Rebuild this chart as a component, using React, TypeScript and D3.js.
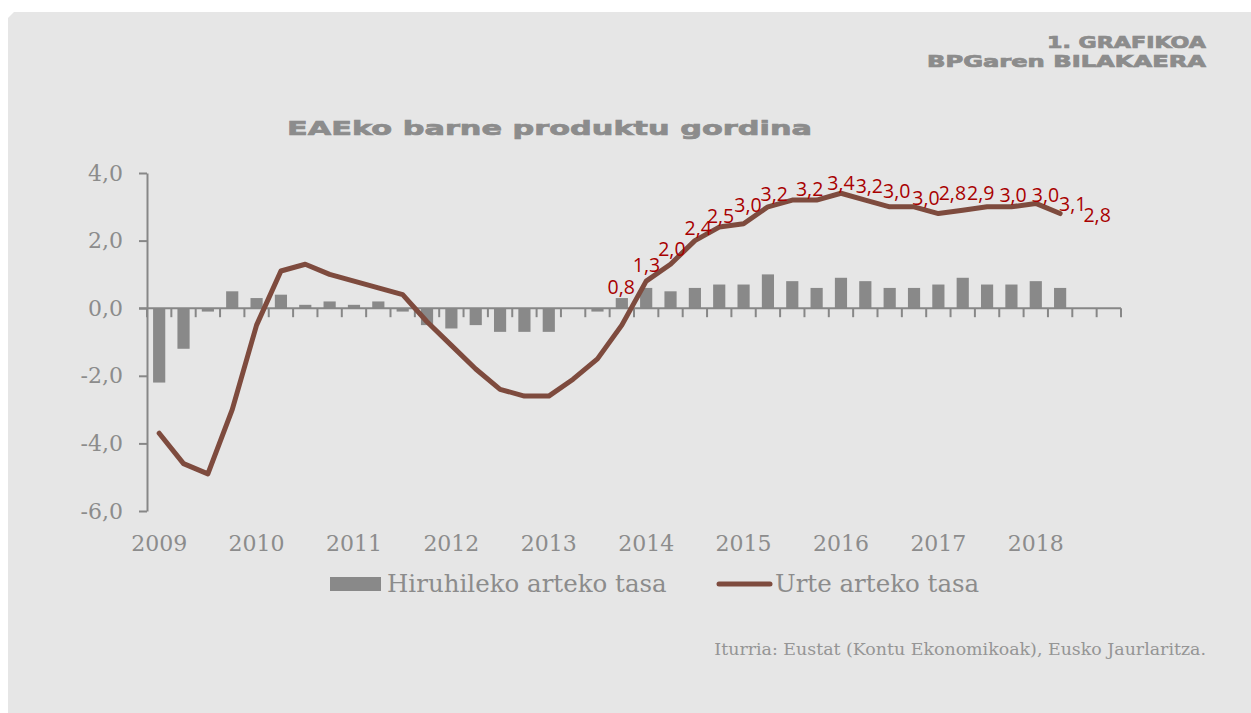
import React, { useRef, useEffect } from 'react';
import * as d3 from 'd3';

// 2009 I .. 2018 IV (40 hiruhileko); datuak 2018 II arte
const years = ['2009', '2010', '2011', '2012', '2013', '2014', '2015', '2016', '2017', '2018'];
const quarterNames = ['I', 'II', 'III', 'IV'];

// Hiruhileko arteko tasa (barrak)
const quarterlyRate = [
  -2.2, -1.2, -0.1, 0.5,
  0.3, 0.4, 0.1, 0.2,
  0.1, 0.2, -0.1, -0.5,
  -0.6, -0.5, -0.7, -0.7,
  -0.7, 0.0, -0.1, 0.3,
  0.6, 0.5, 0.6, 0.7,
  0.7, 1.0, 0.8, 0.6,
  0.9, 0.8, 0.6, 0.6,
  0.7, 0.9, 0.7, 0.7,
  0.8, 0.6,
];

// Urte arteko tasa (lerroa)
const annualRate = [
  -3.7, -4.6, -4.9, -3.0,
  -0.5, 1.1, 1.3, 1.0,
  0.8, 0.6, 0.4, -0.4,
  -1.1, -1.8, -2.4, -2.6,
  -2.6, -2.1, -1.5, -0.5,
  0.8, 1.3, 2.0, 2.4,
  2.5, 3.0, 3.2, 3.2,
  3.4, 3.2, 3.0, 3.0,
  2.8, 2.9, 3.0, 3.0,
  3.1, 2.8,
];

// etiketak 2014 I-tik aurrera
const firstLabelIndex = 20;
// etiketen desplazamendua puntuarekiko (px)
const labelOffsets = [
  [-25, 6], [-24, 1], [-23, 8], [-21, 1], [-23, -8], [-20, -2], [-18, -6], [-7, -11], [0, -10],
  [4, -14], [7, -16], [12, -9], [14, -21], [18, -17], [26, -12], [34, -12], [37, 1], [37, 1],
];

const yTicks = [-6, -4, -2, 0, 2, 4];

const legendItems = ['Hiruhileko arteko tasa', 'Urte arteko tasa'];

const GRAY_TEXT = '#8c8c8c';
const AXIS = '#878787';
const BAR = '#898989';
const LINE = '#7e4b3e';
const LABEL = '#a80000';

const locale = d3.formatLocale({ decimal: ',', thousands: '.', grouping: [3], currency: ['', '€'], minus: '-' });
const fmt = locale.format('.1f');

const App = () => {
  const svgRef = useRef<SVGSVGElement>(null);

  useEffect(() => {
    document.body.style.margin = '0';
    const width = 1251;
    const height = 713;
    const categories = years.flatMap(yr => quarterNames.map(q => `${yr}-${q}`));

    const svg = d3.select(svgRef.current)
      .attr('width', width)
      .attr('height', height)
      .style('display', 'block')
      .style('background', 'white');

    svg.selectAll('*').remove();

    // panel
    svg.append('path')
      .attr('d', `M8,18 L14,12 L${width},12 L${width},${height} L8,${height} Z`)
      .attr('fill', '#e6e6e6');

    // header + title: wide bold lettering
    const heading = (x: number, y: number, len: number, size: number, anchor: string, txt: string) =>
      svg.append('text')
        .attr('x', x).attr('y', y)
        .attr('text-anchor', anchor)
        .attr('textLength', len).attr('lengthAdjust', 'spacingAndGlyphs')
        .style('font-family', 'DejaVu Sans').style('font-weight', 'bold').style('font-size', `${size}px`)
        .attr('fill', GRAY_TEXT)
        .attr('stroke', GRAY_TEXT).attr('stroke-width', 0.7)
        .text(txt);

    heading(1206, 48, 159, 15, 'end', '1. GRAFIKOA');
    heading(1206, 67, 279, 15, 'end', 'BPGaren BILAKAERA');
    heading(287, 135, 525, 20, 'start', 'EAEko barne produktu gordina');

    const xScale = d3.scaleBand().domain(categories).range([147, 1121]).padding(0);
    const yScale = d3.scaleLinear().domain([-6, 4]).range([511, 173]);
    const bw = xScale.bandwidth();
    const cx = (i: number) => (xScale(categories[i]) as number) + bw / 2;

    // bars
    svg.append('g')
      .selectAll('rect')
      .data(quarterlyRate)
      .join('rect')
      .attr('x', (d, i) => cx(i) - bw * 0.25)
      .attr('width', bw * 0.5)
      .attr('y', d => yScale(Math.max(0, d)))
      .attr('height', d => Math.abs(yScale(d) - yScale(0)))
      .attr('fill', BAR);

    // y axis
    const yAxis = d3.axisLeft(yScale)
      .tickValues(yTicks)
      .tickFormat(d => fmt(d as number))
      .tickSize(8)
      .tickSizeOuter(0)
      .tickPadding(16);
    const gy = svg.append('g')
      .attr('transform', 'translate(147,0)')
      .call(yAxis);
    gy.select('.domain').attr('stroke', AXIS).attr('stroke-width', 2);
    gy.selectAll('.tick line').attr('stroke', AXIS).attr('stroke-width', 2);
    gy.selectAll('.tick text')
      .attr('fill', GRAY_TEXT)
      .style('font-family', 'DejaVu Serif')
      .style('font-size', '22px');

    // x axis on zero line
    const y0 = yScale(0);
    svg.append('line')
      .attr('x1', 139).attr('x2', 1121)
      .attr('y1', y0).attr('y2', y0)
      .attr('stroke', AXIS).attr('stroke-width', 2);
    svg.append('g')
      .selectAll('line')
      .data(d3.range(categories.length + 1))
      .join('line')
      .attr('x1', i => 147 + i * bw).attr('x2', i => 147 + i * bw)
      .attr('y1', y0).attr('y2', y0 + 9)
      .attr('stroke', AXIS).attr('stroke-width', 2);

    svg.append('g')
      .selectAll('text')
      .data(years)
      .join('text')
      .attr('x', yr => cx(categories.indexOf(`${yr}-I`)))
      .attr('y', 551)
      .attr('text-anchor', 'middle')
      .attr('fill', GRAY_TEXT)
      .style('font-family', 'DejaVu Serif')
      .style('font-size', '22px')
      .text(yr => yr);

    // line
    const line = d3.line<number>()
      .x((d, i) => cx(i))
      .y(d => yScale(d));
    svg.append('path')
      .datum(annualRate)
      .attr('fill', 'none')
      .attr('stroke', LINE)
      .attr('stroke-width', 5)
      .attr('stroke-linejoin', 'round')
      .attr('stroke-linecap', 'round')
      .attr('d', line);

    // data labels
    svg.append('g')
      .selectAll('text')
      .data(annualRate.slice(firstLabelIndex))
      .join('text')
      .attr('x', (d, i) => cx(firstLabelIndex + i) + labelOffsets[i][0])
      .attr('y', (d, i) => yScale(d) + labelOffsets[i][1])
      .attr('dy', '0.36em')
      .attr('text-anchor', 'middle')
      .attr('fill', LABEL)
      .style('font-family', 'Open Sans')
      .style('font-size', '19.5px')
      .text(d => fmt(d));

    // legend
    const lg = svg.append('g');
    lg.append('rect')
      .attr('x', 330).attr('y', 577).attr('width', 51).attr('height', 14)
      .attr('fill', BAR);
    lg.append('text')
      .attr('x', 387).attr('y', 592)
      .attr('fill', GRAY_TEXT)
      .style('font-family', 'DejaVu Serif').style('font-size', '24.5px')
      .text(legendItems[0]);
    lg.append('line')
      .attr('x1', 719).attr('x2', 770).attr('y1', 584).attr('y2', 584)
      .attr('stroke', LINE).attr('stroke-width', 5).attr('stroke-linecap', 'round');
    lg.append('text')
      .attr('x', 775).attr('y', 592)
      .attr('fill', GRAY_TEXT)
      .style('font-family', 'DejaVu Serif').style('font-size', '24.5px')
      .text(legendItems[1]);

    // source
    svg.append('text')
      .attr('x', 1206).attr('y', 655)
      .attr('text-anchor', 'end')
      .attr('fill', '#959595')
      .style('font-family', 'DejaVu Serif').style('font-size', '17.4px')
      .text('Iturria: Eustat (Kontu Ekonomikoak), Eusko Jaurlaritza.');
  }, []);

  return <svg ref={svgRef}></svg>;
};

export default App;
